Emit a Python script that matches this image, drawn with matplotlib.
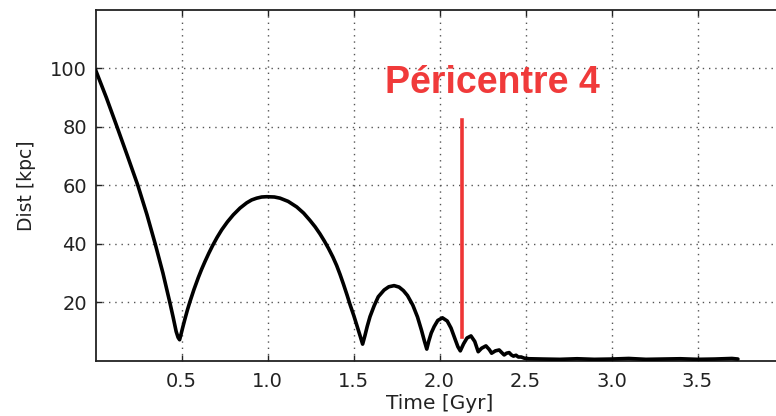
import matplotlib
matplotlib.use("Agg")
import matplotlib.pyplot as plt

# Orbit distance vs time
time_gyr = [0.000, 0.063, 0.125, 0.186, 0.246, 0.299, 0.347, 0.392, 0.432, 0.451,
            0.469, 0.480, 0.489, 0.497, 0.508, 0.520, 0.534, 0.549, 0.572, 0.598,
            0.617, 0.637, 0.659, 0.681, 0.707, 0.734, 0.767, 0.801, 0.840, 0.879,
            0.908, 0.937, 0.966, 0.995, 1.040, 1.073, 1.120, 1.170, 1.210, 1.247,
            1.277, 1.305, 1.330, 1.354, 1.380, 1.402, 1.422, 1.441, 1.463, 1.480,
            1.502, 1.519, 1.537, 1.553, 1.566, 1.580, 1.596, 1.620, 1.644, 1.678,
            1.705, 1.736, 1.765, 1.790, 1.814, 1.845, 1.872, 1.895, 1.912, 1.926,
            1.938, 1.952, 1.969, 1.990, 2.017, 2.045, 2.067, 2.090, 2.107, 2.121,
            2.140, 2.160, 2.183, 2.205, 2.225, 2.245, 2.270, 2.290, 2.303, 2.325,
            2.347, 2.362, 2.376, 2.390, 2.405, 2.418, 2.430, 2.445, 2.458, 2.475,
            2.493, 2.520, 2.600, 2.700, 2.800, 2.900, 3.000, 3.100, 3.200, 3.300,
            3.400, 3.500, 3.600, 3.700, 3.735]
dist_kpc = [99.5, 90.0, 80.0, 70.0, 60.0, 50.0, 40.0, 30.0, 20.0, 15.0,
            10.0, 8.0, 7.2, 9.0, 11.6, 14.3, 17.3, 20.2, 24.3, 28.5,
            31.3, 34.0, 36.8, 39.4, 42.2, 44.8, 47.5, 49.9, 52.2, 54.0,
            55.0, 55.6, 56.0, 56.1, 56.0, 55.6, 54.5, 52.6, 50.5, 48.0,
            45.8, 43.4, 41.0, 38.5, 35.5, 32.6, 29.5, 26.3, 22.4, 19.2,
            15.4, 12.2, 8.8, 5.7, 8.5, 11.8, 15.1, 18.8, 21.9, 24.2,
            25.3, 25.7, 25.2, 24.0, 22.3, 19.0, 15.0, 10.5, 6.8, 4.0,
            6.8, 9.5, 11.7, 13.8, 14.7, 13.6, 11.2, 7.5, 4.8, 3.4,
            5.8, 7.8, 8.5, 6.6, 3.1, 4.3, 5.1, 3.8, 2.6, 3.4,
            3.7, 2.8, 2.0, 2.6, 2.8, 2.0, 1.6, 1.9, 1.3, 1.3,
            0.9, 0.7, 0.6, 0.5, 0.7, 0.5, 0.6, 0.8, 0.5, 0.6,
            0.7, 0.5, 0.6, 0.8, 0.6]

x_ticks = [0.5, 1.0, 1.5, 2.0, 2.5, 3.0, 3.5]
y_ticks = [20, 40, 60, 80, 100]

peri_time = 2.13
peri_range = [8.0, 82.3]
peri_label = "Péricentre 4"

fig = plt.figure(figsize=(7.76, 4.16), dpi=100)
ax = fig.add_axes([95.5 / 776, 55.2 / 416, (783.5 - 95.5) / 776, 351.0 / 416])

ax.plot(time_gyr, dist_kpc, color="black", linewidth=2.6, zorder=3,
        solid_joinstyle="round", solid_capstyle="round")
ax.plot([peri_time, peri_time], peri_range, color="#ee3535", linewidth=2.6, zorder=4)
ax.text(2.31, 91.5, peri_label, color="#f03a3a", fontsize=27, fontweight="bold",
        family="Liberation Sans", ha="center", va="baseline", zorder=5)

ax.set_xlim(0, 4)
ax.set_ylim(0, 120)
ax.set_xticks(x_ticks)
ax.set_yticks(y_ticks)
ax.set_xticklabels([f"{v:.1f}" for v in x_ticks])
ax.set_yticklabels([str(v) for v in y_ticks])
ax.tick_params(direction="in", top=True, right=True, labelsize=14,
               length=4, width=1, colors="#222222")
ax.tick_params(axis="x", pad=8)
ax.tick_params(axis="y", pad=6)
ax.grid(True, linestyle=(0, (1, 3.5)), color="#555555", linewidth=1.0)
for s in ax.spines.values():
    s.set_linewidth(1.3)
    s.set_color("#222222")

ax.set_xlabel("Time [Gyr]", fontsize=14.5, color="#222222", labelpad=2)
ax.set_ylabel("Dist [kpc]", fontsize=13.5, color="#222222", labelpad=10)

fig.savefig("out.png", dpi=100)
